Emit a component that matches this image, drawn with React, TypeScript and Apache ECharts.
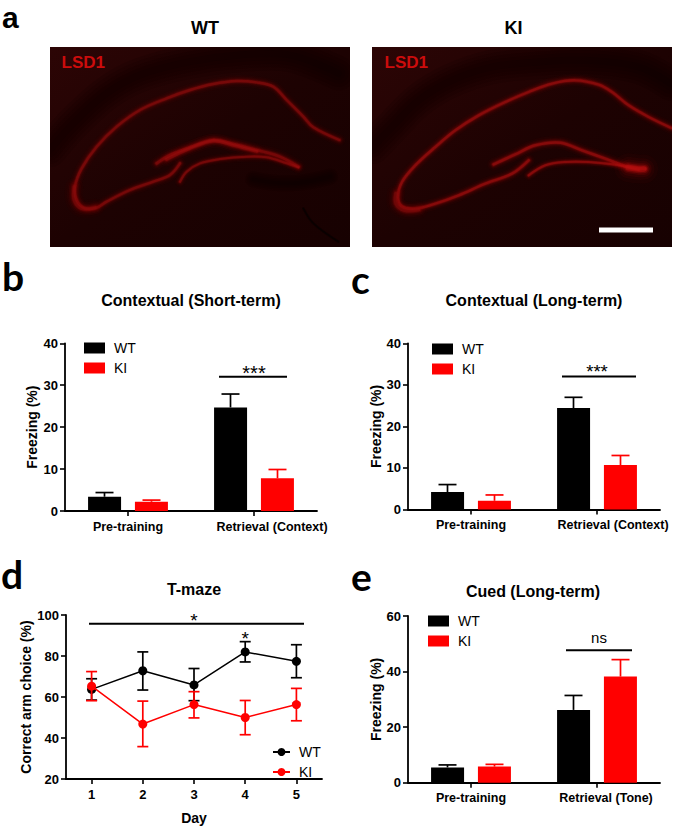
import React, { useEffect, useRef } from "react";
import * as echarts from "echarts";

// ---------- chart values ----------
const freezingGroups = ["Pre-training", "Retrieval (Context)"];
const toneGroups = ["Pre-training", "Retrieval (Tone)"];
const days = ["1", "2", "3", "4", "5"];

const shortWT = [3.4, 24.7];
const shortWTTop = [4.4, 27.9];
const shortKI = [2.2, 7.8];
const shortKITop = [2.6, 9.9];

const longWT = [4.2, 24.4];
const longWTTop = [6.0, 27.0];
const longKI = [2.1, 10.7];
const longKITop = [3.5, 13.0];

const cuedWT = [5.5, 26.2];
const cuedWTTop = [6.4, 31.4];
const cuedKI = [5.8, 38.2];
const cuedKITop = [6.6, 44.3];

const mazeWT = [63.7, 72.8, 65.9, 82.0, 77.4];
const mazeWTLow = [58.5, 63.4, 58.2, 77.1, 69.4];
const mazeWTHigh = [68.9, 82.0, 73.9, 87.0, 85.5];
const mazeKI = [65.3, 46.8, 56.3, 50.0, 56.3];
const mazeKILow = [58.2, 35.8, 49.8, 41.6, 48.4];
const mazeKIHigh = [72.4, 58.0, 62.6, 58.3, 64.2];

const FONT = '"Liberation Sans", Arial, sans-serif';
const BLACK = "#000000";
const RED = "#ff0000";

// ---------- micrograph outlines (traced from the picture, not data) ----------
type P = number[];
const zl = (pts: P[]) => pts.map(([x, y]) => [x / 3 + 40, y / 3 + 40]);
const zr = (pts: P[]) => pts.map(([x, y]) => [x / 3 + 372, y / 3 + 47]);

const leftArc = zl([[898, 300], [820, 262], [790, 230], [740, 180], [700, 140], [650, 127], [590, 123], [520, 132], [450, 150], [380, 175], [300, 210], [230, 260], [170, 320], [125, 385], [105, 440], [110, 480], [135, 505], [170, 503], [200, 485], [270, 450], [340, 425], [390, 405], [420, 370]]);
const leftUpper = zl([[350, 370], [390, 345], [450, 322], [520, 300], [580, 312], [650, 330], [720, 350], [775, 380]]);
const leftLower = zl([[420, 425], [440, 395], [480, 370], [540, 357], [620, 350], [680, 352], [740, 370], [775, 382]]);
const leftBulb = zl([[103, 440], [103, 480], [125, 505], [165, 503]]);
const leftThick = zl([[380, 358], [450, 325], [520, 303], [580, 316], [650, 334]]);
const leftDarkBand = zl([[30, 330], [100, 250], [200, 160], [300, 105], [450, 65], [600, 45], [750, 45], [895, 100]]);
const leftDarkBlob = zl([[640, 418], [700, 428], [780, 428], [870, 410]]);
const leftDarkLine = zl([[790, 505], [820, 550], [895, 605]]);

const rightArc = zr([[898, 243], [830, 210], [770, 175], [720, 135], [680, 113], [610, 100], [540, 110], [470, 135], [400, 165], [320, 205], [250, 250], [190, 300], [130, 355], [90, 405], [78, 450], [90, 478], [130, 485], [190, 470], [260, 445], [340, 410], [420, 380], [470, 340]]);
const rightUpper = zr([[365, 352], [430, 322], [490, 295], [565, 287], [630, 310], [700, 335], [770, 360], [820, 365]]);
const rightLower = zr([[470, 385], [520, 355], [580, 345], [650, 345], [720, 352], [800, 368]]);
const rightBulb = zr([[72, 440], [72, 470], [98, 490], [140, 488]]);
const rightThick = zr([[770, 362], [800, 366], [815, 366]]);
const rightDarkBand = zr([[2, 300], [60, 240], [140, 160], [240, 100], [360, 60], [500, 45], [650, 40], [800, 60], [896, 110]]);

const glowLayers = [
  [12, 0.04],
  [9, 0.06],
  [6.8, 0.09],
  [5, 0.13],
  [3.6, 0.24],
  [2.4, 0.42],
];

const glow = (points: number[][], scale = 1, core = "#b81010") =>
  glowLayers.map(([w, o]) => ({
    type: "polyline",
    silent: true,
    z: 2,
    shape: { points, smooth: 0.35 },
    style: { fill: "none", stroke: core, lineWidth: w * scale, opacity: o, lineCap: "round", lineJoin: "round" },
  }));

const darkStroke = (points: number[][], width: number, opacity = 0.11) =>
  [1, 0.8, 0.6, 0.4, 0.2].map((k) => ({
    type: "polyline",
    silent: true,
    z: 1,
    shape: { points, smooth: 0.35 },
    style: { fill: "none", stroke: "#060000", lineWidth: width * k, opacity, lineCap: "round", lineJoin: "round" },
  }));

const tissueFill = {
  type: "linear",
  x: 0,
  y: 0,
  x2: 1,
  y2: 1,
  colorStops: [
    { offset: 0, color: "#2c0505" },
    { offset: 0.5, color: "#1d0202" },
    { offset: 1, color: "#170101" },
  ],
};

const micrograph = (x: number, shapes: any[], labelX: number) => [
  { type: "rect", silent: true, z: 0, shape: { x, y: 47, width: 300, height: 200 }, style: { fill: tissueFill } },
  ...shapes,
  { type: "rect", silent: true, z: 3, shape: { x: x - 10, y: 37, width: 320, height: 220 }, style: { fill: "none", stroke: "#ffffff", lineWidth: 20 } },
  { type: "text", silent: true, z: 4, x: labelX, y: 62.5, style: { text: "LSD1", fill: "#cc0c0c", font: `bold 17px ${FONT}`, textAlign: "left", textVerticalAlign: "middle" } },
];

const panelLetter = (text: string, x: number, y: number, font = "bold 39px Lato, sans-serif") => ({
  type: "text",
  silent: true,
  z: 5,
  x,
  y,
  style: { text, fill: "#000", font, textAlign: "left", textVerticalAlign: "middle" },
});

const LEFT_CORE = "#a00e0e";
const BULB_CORE = "#8c0b0b";

const imageGraphics = [
  ...micrograph(
    50,
    [
      ...darkStroke(leftDarkBand, 34),
      ...darkStroke(leftDarkBlob, 16, 0.12),
      ...darkStroke(leftDarkLine, 2.5, 0.22),
      ...glow(leftArc, 1, LEFT_CORE),
      ...glow(leftUpper, 1.1, LEFT_CORE),
      ...glow(leftThick, 1.2, LEFT_CORE),
      ...glow(leftLower, 0.85, LEFT_CORE),
      ...glow(leftBulb, 1.5, BULB_CORE),
    ],
    61.5
  ),
  ...micrograph(
    372,
    [
      ...darkStroke(rightDarkBand, 34),
      ...glow(rightArc),
      ...glow(rightUpper, 1.05),
      ...glow(rightLower, 0.85),
      ...glow(rightBulb, 1.5, BULB_CORE),
      ...glow(rightThick, 2.4),
    ],
    384.5
  ),
  { type: "rect", silent: true, z: 4, shape: { x: 599, y: 227.5, width: 54, height: 5 }, style: { fill: "#ffffff" } },
  { type: "text", silent: true, z: 5, x: 205, y: 28, style: { text: "WT", fill: "#000", font: `bold 18px ${FONT}`, textAlign: "center", textVerticalAlign: "middle" } },
  { type: "text", silent: true, z: 5, x: 513.5, y: 28, style: { text: "KI", fill: "#000", font: `bold 18px ${FONT}`, textAlign: "center", textVerticalAlign: "middle" } },
  panelLetter("a", 2, 17, `bold 30px ${FONT}`),
  panelLetter("b", 2, 276),
  panelLetter("c", 351, 279),
  panelLetter("d", 1, 574),
  panelLetter("e", 351, 576),
];

// ---------- option builders ----------
const BAR_OFFSET = 23.5;

const axisLineStyle = { show: true, lineStyle: { color: "#000", width: 1.8 } };
const axisTickStyle = { show: true, length: 5, lineStyle: { color: "#000", width: 1.6 } };
const tickFont = { color: "#000", fontFamily: FONT, fontWeight: "bold" as const, fontSize: 12.5 };
const nameFont = { ...tickFont, fontSize: 14 };

const errorUp = (name: string, g: number, means: number[], tops: number[], dx: number, color: string) => ({
  type: "custom",
  name,
  xAxisIndex: g,
  yAxisIndex: g,
  silent: true,
  z: 3,
  clip: false,
  data: means.map((m, i) => [i, m, tops[i]]),
  encode: { x: 0, y: [1, 2] },
  renderItem: (_p: any, api: any) => {
    const a = api.coord([api.value(0), api.value(1)]);
    const b = api.coord([api.value(0), api.value(2)]);
    const x = a[0] + dx;
    const style = { stroke: color, lineWidth: 1.7, fill: "none" };
    return {
      type: "group",
      children: [
        { type: "line", shape: { x1: x, y1: a[1], x2: x, y2: b[1] }, style },
        { type: "line", shape: { x1: x - 9, y1: b[1], x2: x + 9, y2: b[1] }, style },
      ],
    };
  },
});

const errorBoth = (name: string, g: number, lows: number[], highs: number[], color: string, z: number) => ({
  type: "custom",
  name,
  xAxisIndex: g,
  yAxisIndex: g,
  silent: true,
  z,
  clip: false,
  data: lows.map((l, i) => [i, l, highs[i]]),
  encode: { x: 0, y: [1, 2] },
  renderItem: (_p: any, api: any) => {
    const a = api.coord([api.value(0), api.value(1)]);
    const b = api.coord([api.value(0), api.value(2)]);
    const style = { stroke: color, lineWidth: 1.7, fill: "none" };
    return {
      type: "group",
      children: [
        { type: "line", shape: { x1: a[0], y1: a[1], x2: a[0], y2: b[1] }, style },
        { type: "line", shape: { x1: a[0] - 5.5, y1: a[1], x2: a[0] + 5.5, y2: a[1] }, style },
        { type: "line", shape: { x1: a[0] - 5.5, y1: b[1], x2: a[0] + 5.5, y2: b[1] }, style },
      ],
    };
  },
});

// significance mark, placed through the panel's own axes
const sigMark = (g: number, cat: number, lineValue: number, left: number, right: number, label: string, labelValue: number, labelDx = 0, fontSize = 20) => ({
  type: "custom",
  name: `sig-${g}-${cat}-${label}`,
  xAxisIndex: g,
  yAxisIndex: g,
  silent: true,
  z: 5,
  clip: false,
  data: [[cat, lineValue, labelValue]],
  encode: { x: 0, y: 1 },
  renderItem: (_p: any, api: any) => {
    const l = api.coord([api.value(0), api.value(1)]);
    const t = api.coord([api.value(0), api.value(2)]);
    const children: any[] = [
      {
        type: "text",
        x: l[0] + labelDx,
        y: t[1],
        style: { text: label, fill: "#000", font: `${fontSize}px ${FONT}`, textAlign: "center", textVerticalAlign: "middle" },
      },
    ];
    if (right > left) {
      children.push({ type: "line", shape: { x1: l[0] + left, y1: l[1], x2: l[0] + right, y2: l[1] }, style: { stroke: "#000", lineWidth: 2 } });
    }
    return { type: "group", children };
  },
});

const barSeries = (g: number, wt: number[], wtTop: number[], ki: number[], kiTop: number[]) => [
  { type: "bar", name: "WT", xAxisIndex: g, yAxisIndex: g, data: wt, barWidth: 33, barGap: "42%", itemStyle: { color: BLACK }, z: 2 },
  { type: "bar", name: "KI", xAxisIndex: g, yAxisIndex: g, data: ki, barWidth: 33, barGap: "42%", itemStyle: { color: RED }, z: 2 },
  errorUp(`errWT${g}`, g, wt, wtTop, -BAR_OFFSET, BLACK),
  errorUp(`errKI${g}`, g, ki, kiTop, BAR_OFFSET, RED),
];

const catAxis = (g: number, data: string[], pad: number) => ({
  type: "category",
  gridIndex: g,
  data,
  axisLine: axisLineStyle,
  axisTick: { ...axisTickStyle, alignWithLabel: true },
  axisLabel: {
    ...tickFont,
    interval: 0,
    margin: 9,
    formatter: (v: string, i: number) => (i === 1 ? `{r|${v}}` : `{p|${v}}`),
    rich: {
      p: { ...tickFont },
      r: { ...tickFont, padding: [0, 0, 0, pad] },
    },
  },
});

const valAxis = (g: number, min: number, max: number, interval: number, name: string, nameGap: number) => ({
  type: "value",
  gridIndex: g,
  min,
  max,
  interval,
  name,
  nameLocation: "middle",
  nameGap,
  nameTextStyle: nameFont,
  splitLine: { show: false },
  axisLine: axisLineStyle,
  axisTick: axisTickStyle,
  axisLabel: { ...tickFont, fontSize: 13, margin: 7 },
});

const barLegend = (left: number, top: number) => ({
  left,
  top,
  padding: 0,
  orient: "vertical",
  selectedMode: false,
  itemWidth: 21,
  itemHeight: 11,
  itemGap: 6,
  icon: "rect",
  data: ["WT", "KI"],
  textStyle: { color: "#000", fontFamily: FONT, fontSize: 14, padding: [0, 0, 0, 4] },
});

const title = (text: string, cx: number, top: number) => ({
  text,
  left: cx,
  top,
  textAlign: "center",
  padding: 0,
  textStyle: { color: "#000", fontFamily: FONT, fontWeight: "bold", fontSize: 16 },
});

const option = {
  animation: false,
  backgroundColor: "#ffffff",
  title: [
    title("Contextual (Short-term)", 191, 292),
    title("Contextual (Long-term)", 534, 292),
    title("T-maze", 194, 581),
    title("Cued (Long-term)", 533, 583),
  ],
  legend: [
    barLegend(84, 341),
    barLegend(432, 342),
    {
      left: 272,
      top: 745,
      padding: 0,
      orient: "vertical",
      selectedMode: false,
      itemWidth: 17,
      itemHeight: 10,
      itemGap: 6,
      data: ["WT maze", "KI maze"],
      formatter: (n: string) => n.split(" ")[0],
      textStyle: { color: "#000", fontFamily: FONT, fontSize: 14, padding: [0, 0, 0, 4] },
    },
    barLegend(428, 614),
  ],
  grid: [
    { left: 65, top: 343.3, width: 252, height: 167.7 },
    { left: 408, top: 343.3, width: 252, height: 166.2 },
    { left: 66, top: 615, width: 256, height: 169 },
    { left: 408, top: 616, width: 252, height: 166.7 },
  ],
  xAxis: [
    catAxis(0, freezingGroups, 36),
    catAxis(1, freezingGroups, 32),
    {
      type: "category",
      gridIndex: 2,
      data: days,
      name: "Day",
      nameLocation: "middle",
      nameGap: 32,
      nameTextStyle: nameFont,
      axisLine: axisLineStyle,
      axisTick: { ...axisTickStyle, alignWithLabel: true },
      axisLabel: { ...tickFont, fontSize: 13, margin: 9 },
    },
    catAxis(3, toneGroups, 18),
  ],
  yAxis: [
    valAxis(0, 0, 40, 10, "Freezing (%)", 26),
    valAxis(1, 0, 40, 10, "Freezing (%)", 25),
    valAxis(2, 20, 100, 20, "Correct arm choice (%)", 27),
    valAxis(3, 0, 60, 20, "Freezing (%)", 25),
  ],
  series: [
    ...barSeries(0, shortWT, shortWTTop, shortKI, shortKITop),
    ...barSeries(1, longWT, longWTTop, longKI, longKITop),
    ...barSeries(3, cuedWT, cuedWTTop, cuedKI, cuedKITop),
    errorBoth("errMazeWT", 2, mazeWTLow, mazeWTHigh, BLACK, 3),
    {
      type: "line",
      name: "WT maze",
      xAxisIndex: 2,
      yAxisIndex: 2,
      data: mazeWT,
      symbol: "circle",
      symbolSize: 9,
      z: 4,
      itemStyle: { color: BLACK },
      lineStyle: { color: BLACK, width: 1.5 },
    },
    errorBoth("errMazeKI", 2, mazeKILow, mazeKIHigh, RED, 5),
    {
      type: "line",
      name: "KI maze",
      xAxisIndex: 2,
      yAxisIndex: 2,
      data: mazeKI,
      symbol: "circle",
      symbolSize: 9,
      z: 6,
      itemStyle: { color: RED },
      lineStyle: { color: RED, width: 1.5 },
    },
    sigMark(0, 1, 32, -35, 33, "***", 33),
    sigMark(1, 1, 32, -35, 39, "***", 33.2, 0, 18.5),
    sigMark(3, 1, 47.7, -31, 35, "ns", 52.3, 2, 15),
    sigMark(2, 2, 95.7, -105, 110, "*", 97.4, 0, 19),
    sigMark(2, 3, 88, 0, 0, "*", 88.6, 0, 19),
  ],
  graphic: imageGraphics,
};

export default function App() {
  const ref = useRef<HTMLDivElement>(null);
  useEffect(() => {
    document.body.style.margin = "0";
    const chart = echarts.init(ref.current as HTMLDivElement, undefined, { renderer: "svg" });
    chart.setOption(option as any);
    return () => chart.dispose();
  }, []);
  return <div ref={ref} style={{ width: 675, height: 826 }} />;
}
